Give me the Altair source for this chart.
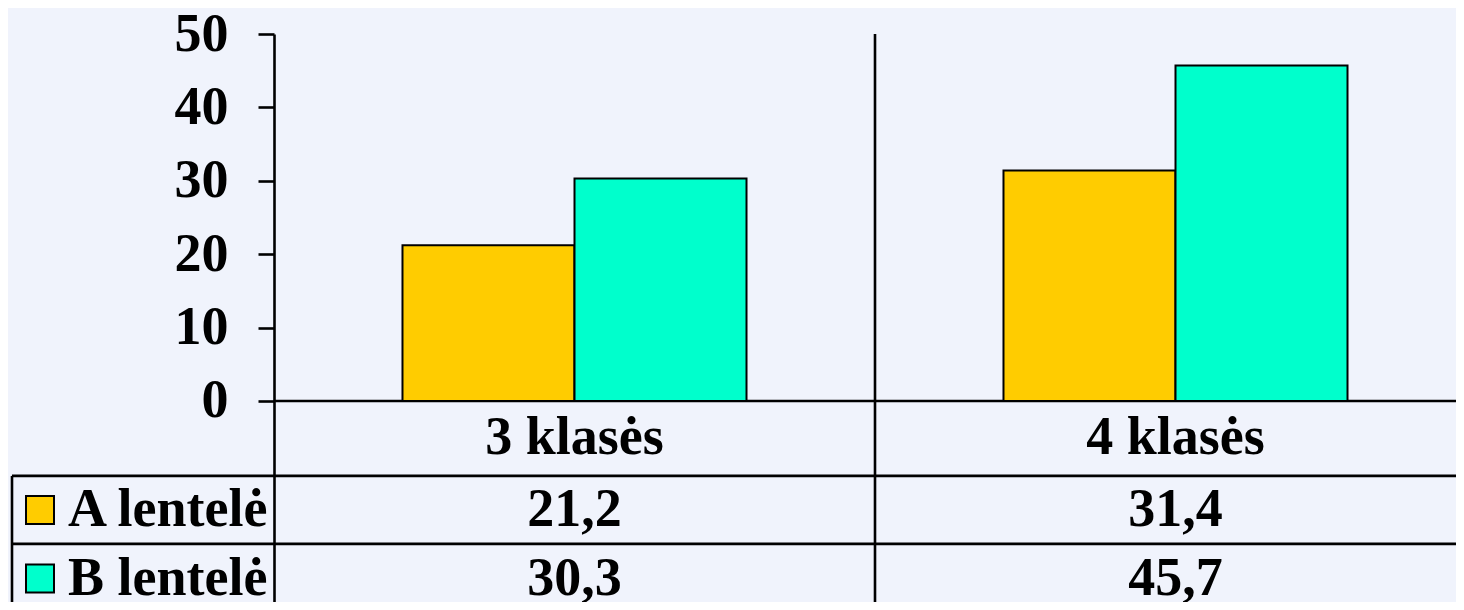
import altair as alt
import pandas as pd

categories = ["3 klasės", "4 klasės"]
series = ["A lentelė", "B lentelė"]
values_a = [21.2, 31.4]
values_b = [30.3, 45.7]
colors = ["#FFCC00", "#00FFCC"]
y_ticks = [0, 10, 20, 30, 40, 50]

FONT = "Liberation Serif"
FS = 54
BG = "#F0F3FC"
LW = 2.6

# table layout, expressed in the y data scale (below zero)
Y_MIN = -27.4
ROW1_BOTTOM = -10.22
ROW2_BOTTOM = -19.48
ROW_CAT = -5.1
ROW_A = -14.85
ROW_B = -24.2

rows = []
for c, a, b in zip(categories, values_a, values_b):
    rows.append({"cat": c, "series": series[0], "value": a})
    rows.append({"cat": c, "series": series[1], "value": b})
df = pd.DataFrame(rows)
df["label"] = df["value"].map(lambda v: f"{v:.1f}".replace(".", ","))

x_scale = alt.Scale(domain=categories, range=[0, 1202], paddingInner=0, paddingOuter=0)
y_scale = alt.Scale(domain=[Y_MIN, 50], nice=False, zero=False)
X = alt.X("cat:N", scale=x_scale, axis=None, sort=categories)

bars = alt.Chart(df).mark_bar(stroke="black", strokeWidth=2).encode(
    x=X,
    xOffset=alt.XOffset("series:N", sort=series,
                        scale=alt.Scale(paddingInner=0, paddingOuter=0.747)),
    y=alt.Y("value:Q", scale=y_scale,
            axis=alt.Axis(values=y_ticks, title=None, grid=False)),
    color=alt.Color("series:N", scale=alt.Scale(domain=series, range=colors), legend=None),
)

cat_df = pd.DataFrame({"cat": categories})
cat_text = alt.Chart(cat_df).mark_text(
    font=FONT, fontSize=FS, fontWeight="bold", color="black", baseline="middle"
).encode(x=alt.X("cat:N", scale=x_scale, axis=None, bandPosition=0.5), y=alt.datum(ROW_CAT), text="cat:N")

val_a = alt.Chart(df[df["series"] == series[0]]).mark_text(
    font=FONT, fontSize=FS, fontWeight="bold", color="black", baseline="middle"
).encode(x=alt.X("cat:N", scale=x_scale, axis=None, bandPosition=0.5), y=alt.datum(ROW_A), text="label:N")
val_b = alt.Chart(df[df["series"] == series[1]]).mark_text(
    font=FONT, fontSize=FS, fontWeight="bold", color="black", baseline="middle"
).encode(x=alt.X("cat:N", scale=x_scale, axis=None, bandPosition=0.5), y=alt.datum(ROW_B), text="label:N")

leg_df = pd.DataFrame({"series": series, "row": [ROW_A, ROW_B]})
leg_sq = alt.Chart(leg_df).mark_square(size=784, stroke="black", strokeWidth=2, opacity=1).encode(
    x=alt.value(-234), y=alt.Y("row:Q"),
    color=alt.Color("series:N", scale=alt.Scale(domain=series, range=colors), legend=None),
)
leg_txt = alt.Chart(leg_df).mark_text(
    font=FONT, fontSize=FS, fontWeight="bold", color="black", baseline="middle", align="left"
).encode(x=alt.value(-206), y=alt.Y("row:Q"), text="series:N")

# table grid lines
h0 = alt.Chart(pd.DataFrame({"y": [0]})).mark_rule(color="black", strokeWidth=LW).encode(
    x=alt.value(0), x2=alt.value(1300), y="y:Q")
hrows = alt.Chart(pd.DataFrame({"y": [ROW1_BOTTOM, ROW2_BOTTOM]})).mark_rule(
    color="black", strokeWidth=LW).encode(x=alt.value(-262), x2=alt.value(1300), y="y:Q")
vleft = alt.Chart(pd.DataFrame({"y": [ROW1_BOTTOM], "y2": [Y_MIN]})).mark_rule(
    color="black", strokeWidth=LW).encode(x=alt.value(-262), y="y:Q", y2="y2:Q")
vdiv = alt.Chart(pd.DataFrame({"cat": [categories[1]], "y": [50], "y2": [Y_MIN]})).mark_rule(
    color="black", strokeWidth=LW).encode(
    x=alt.X("cat:N", scale=x_scale, axis=None, bandPosition=0), y="y:Q", y2="y2:Q")

chart = alt.layer(h0, hrows, vleft, vdiv, bars, cat_text, val_a, val_b, leg_sq, leg_txt).resolve_scale(
    y="shared", x="shared"
).properties(
    width=1182, height=568,
    autosize=alt.AutoSizeParams(type="none"),
    padding={"left": 266, "top": 26, "right": 0, "bottom": 0},
    background=BG,
).configure_view(stroke=None).configure_axis(
    labelFont=FONT, labelFontSize=FS, labelFontWeight="bold", labelColor="black",
    tickColor="black", domainColor="black", tickWidth=LW, domainWidth=LW,
    tickSize=16, labelPadding=30,
)

chart.save("out.html", embed_options={"renderer": "svg", "actions": False})
